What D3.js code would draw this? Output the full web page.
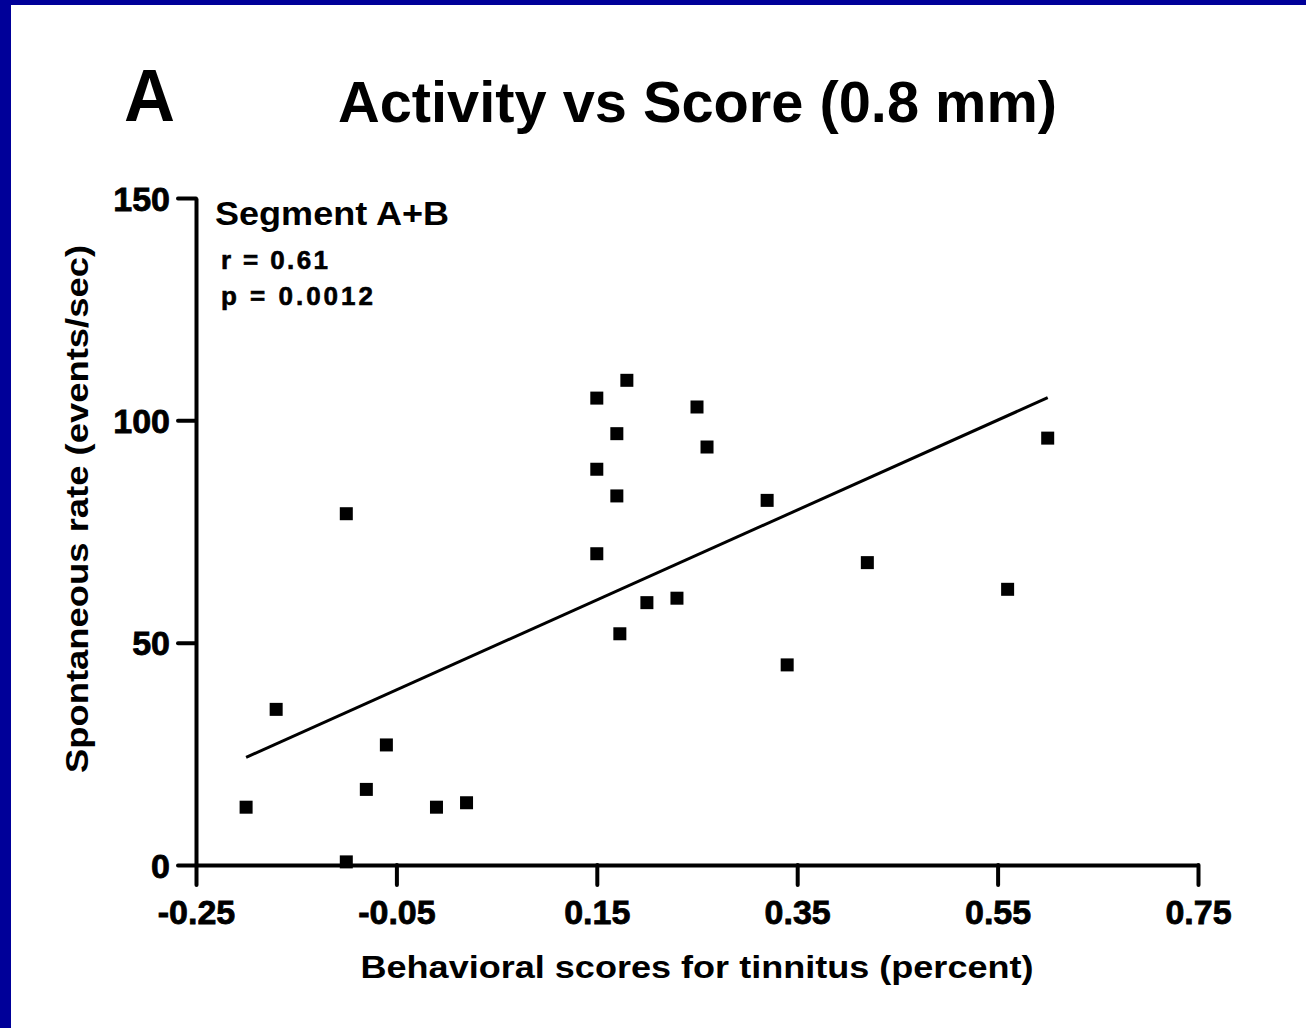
<!DOCTYPE html>
<html>
<head>
<meta charset="utf-8">
<title>Activity vs Score</title>
<script src="https://d3js.org/d3.v7.min.js"></script>
<style>
  body { margin: 0; background: #fff; }
  text { font-family: "Liberation Sans", Arial, sans-serif; font-weight: bold; fill: #000; }
</style>
</head>
<body>
<script>
  // behavioral score (x) and spontaneous rate (y) per recording
  const scores = [-0.20, -0.17, -0.10, -0.10, -0.08, -0.06, -0.01, 0.02,
                  0.15, 0.15, 0.15, 0.17, 0.17, 0.18, 0.173, 0.20, 0.23,
                  0.25, 0.26, 0.32, 0.34, 0.42, 0.56, 0.60]
  const rates = [13, 35, 79, 0.7, 17, 27, 13, 14,
                 105, 89, 70, 97, 83, 109, 52, 59, 60,
                 103, 94, 82, 45, 68, 62, 96]
  // regression line ends
  const fitX = [-0.20, 0.60]
  const fitY = [24.2, 105.1]

  const xMajor = [-0.25, -0.05, 0.15, 0.35, 0.55, 0.75]
  const xMinor = d3.range(0, 21).map(i => -0.25 + i * 0.05)
  const yMajor = [0, 50, 100, 150]
  const yMinor = d3.range(0, 16).map(i => i * 10)

  const W = 1306, H = 1028

  const svg = d3.select('body').append('svg')
      .attr('width', W)
      .attr('height', H)

  // dark blue frame on top and left
  svg.append('rect').attr('x', 0).attr('y', 0).attr('width', W).attr('height', 5).attr('fill', '#000099')
  svg.append('rect').attr('x', 0).attr('y', 0).attr('width', 11).attr('height', H).attr('fill', '#000099')

  const x = d3.scaleLinear().domain([-0.25, 0.75]).range([196, 1198])
  const y = d3.scaleLinear().domain([0, 150]).range([865, 198])

  // x axis
  const gx = svg.append('g').attr('transform', 'translate(0,865)')
  gx.call(d3.axisBottom(x).tickValues(xMinor).tickSize(13).tickFormat('').tickSizeOuter(0))
  gx.call(d3.axisBottom(x).tickValues(xMajor).tickSize(20).tickPadding(15).tickSizeOuter(0)
      .tickFormat(d => d3.format('.2f')(d).replace('−', '-')))

  // y axis
  const gy = svg.append('g').attr('transform', 'translate(196,0)')
  gy.call(d3.axisLeft(y).tickValues(yMinor).tickSize(13).tickFormat('').tickSizeOuter(0))
  gy.call(d3.axisLeft(y).tickValues(yMajor).tickSize(18).tickPadding(8).tickSizeOuter(0))

  svg.selectAll('.domain').attr('stroke', '#000').attr('stroke-width', 4)
  svg.selectAll('.tick line').attr('stroke', '#000').attr('stroke-width', 4).attr('stroke-linecap', 'round')
  svg.selectAll('.tick text').attr('font-size', 34).attr('font-family', '"Liberation Sans", Arial, sans-serif')
      .attr('font-weight', 'bold').attr('fill', '#000')
      .attr('stroke', '#000').attr('stroke-width', 0.8)
  gy.selectAll('.tick text').attr('dy', '0.36em')

  // regression line
  svg.append('line')
      .attr('x1', x(fitX[0])).attr('y1', y(fitY[0]))
      .attr('x2', x(fitX[1])).attr('y2', y(fitY[1]))
      .attr('stroke', '#000').attr('stroke-width', 3)

  // points
  const sq = 13
  svg.append('g').selectAll('rect')
      .data(scores.map((s, i) => [s, rates[i]]))
      .enter()
      .append('rect')
      .attr('x', d => x(d[0]) - sq / 2)
      .attr('y', d => y(d[1]) - sq / 2)
      .attr('width', sq)
      .attr('height', sq)
      .attr('fill', '#000')

  // titles
  svg.append('text').attr('x', 124).attr('y', 121).attr('font-size', 75)
      .attr('textLength', 51).attr('lengthAdjust', 'spacingAndGlyphs').text('A')
  svg.append('text').attr('x', 338).attr('y', 122).attr('font-size', 58)
      .attr('textLength', 719).attr('lengthAdjust', 'spacingAndGlyphs')
      .text('Activity vs Score (0.8 mm)')

  svg.append('text').attr('x', 215).attr('y', 225).attr('font-size', 33)
      .attr('textLength', 234).attr('lengthAdjust', 'spacingAndGlyphs').text('Segment A+B')
  svg.append('text').attr('x', 221).attr('y', 269).attr('font-size', 26)
      .attr('stroke', '#000').attr('stroke-width', 0.6)
      .attr('textLength', 107).attr('lengthAdjust', 'spacing').text('r = 0.61')
  svg.append('text').attr('x', 221).attr('y', 305).attr('font-size', 26)
      .attr('stroke', '#000').attr('stroke-width', 0.6)
      .attr('textLength', 152).attr('lengthAdjust', 'spacing').text('p = 0.0012')

  svg.append('text').attr('x', 697).attr('y', 978).attr('font-size', 32)
      .attr('text-anchor', 'middle')
      .attr('textLength', 673).attr('lengthAdjust', 'spacingAndGlyphs')
      .text('Behavioral scores for tinnitus (percent)')

  svg.append('text')
      .attr('transform', 'translate(88,509) rotate(-90)')
      .attr('font-size', 32)
      .attr('text-anchor', 'middle')
      .attr('textLength', 528).attr('lengthAdjust', 'spacingAndGlyphs')
      .text('Spontaneous rate (events/sec)')
</script>
</body>
</html>
